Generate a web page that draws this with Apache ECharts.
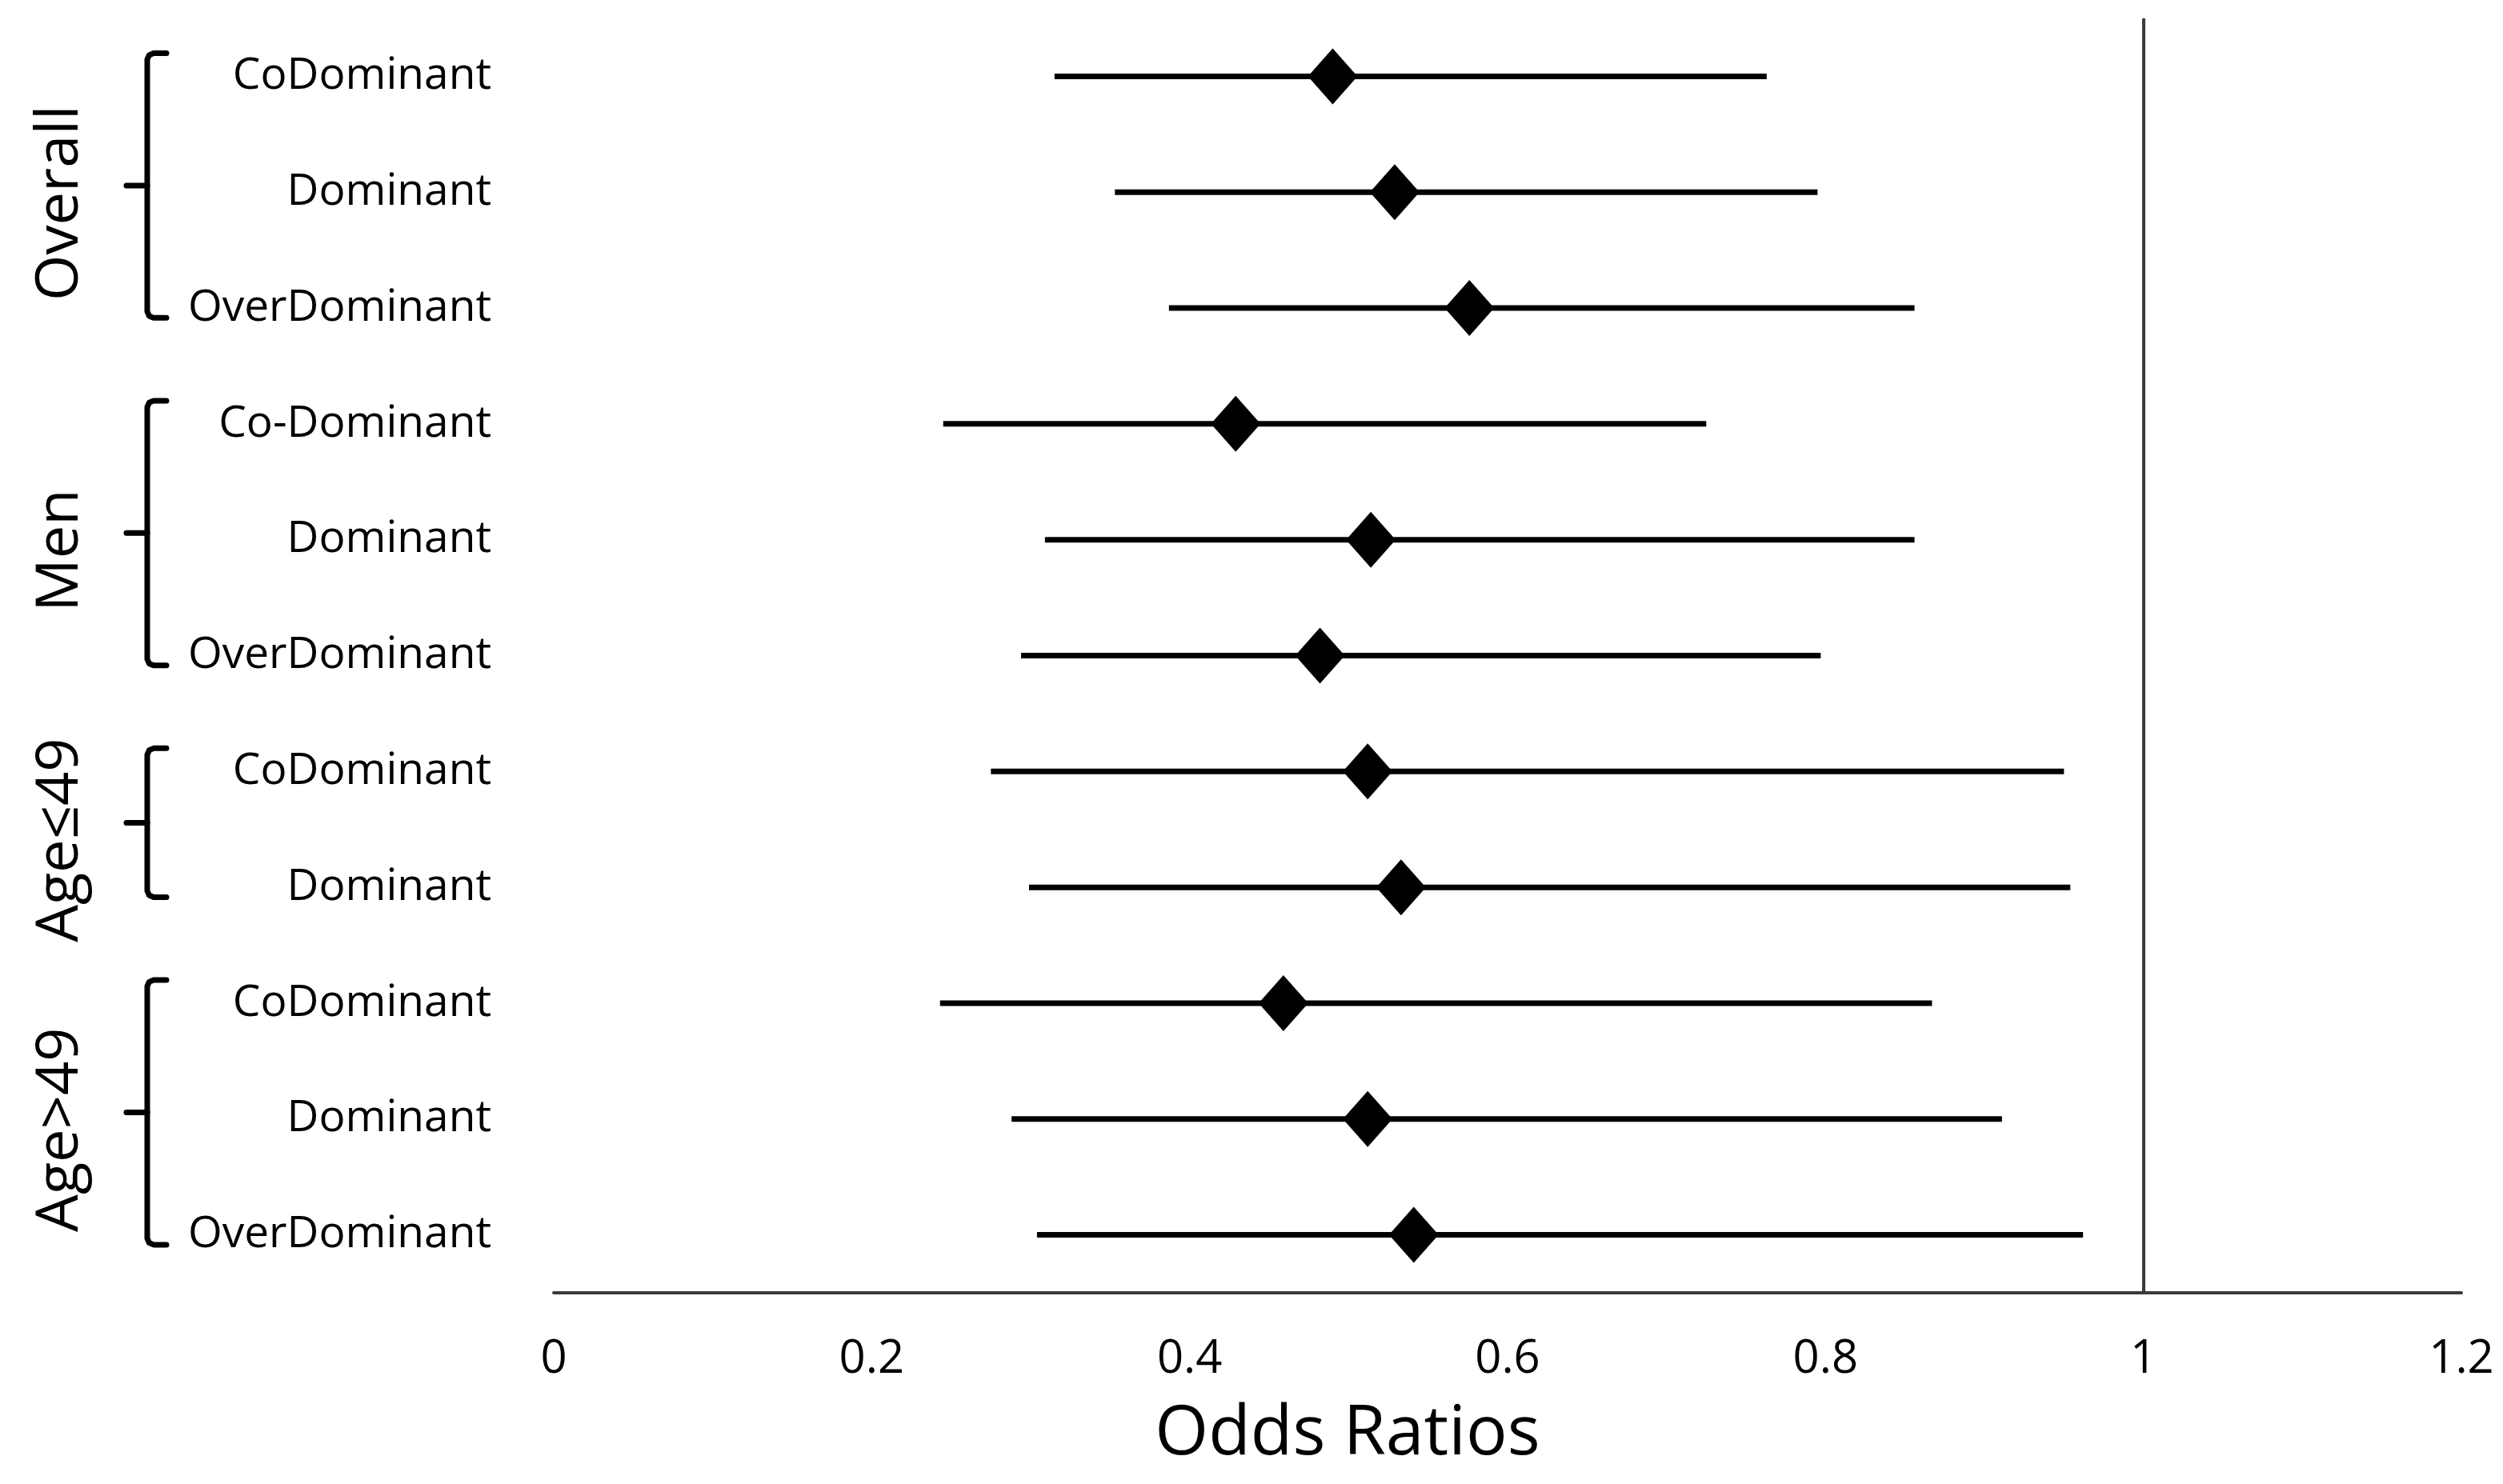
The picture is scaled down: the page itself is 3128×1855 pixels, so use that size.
<!DOCTYPE html>
<html>
<head>
<meta charset="utf-8">
<script src="https://cdn.jsdelivr.net/npm/echarts@6/dist/echarts.min.js"></script>
<style>
  html, body { margin: 0; padding: 0; background: #ffffff; }
  #chart { width: 3128px; height: 1855px; }
</style>
</head>
<body>
<div id="chart"></div>
<script>
// ---- data ----
const categories = ['CoDominant', 'Dominant', 'OverDominant', 'Co-Dominant', 'Dominant', 'OverDominant',
                    'CoDominant', 'Dominant', 'CoDominant', 'Dominant', 'OverDominant'];
const oddsRatio = [0.490, 0.529, 0.576, 0.429, 0.514, 0.482, 0.512, 0.533, 0.459, 0.512, 0.541];
const ciLow     = [0.315, 0.353, 0.387, 0.245, 0.309, 0.294, 0.275, 0.299, 0.243, 0.288, 0.304];
const ciHigh    = [0.763, 0.795, 0.856, 0.725, 0.856, 0.797, 0.950, 0.954, 0.867, 0.911, 0.962];
const groupNames = ['Overall', 'Men', 'Age\u226449', 'Age>49'];
const groupSizes = [3, 3, 2, 3];
const referenceValue = 1;
const xMin = 0, xMax = 1.2, xStep = 0.2;

const FONT = '"Open Sans", "Liberation Sans", sans-serif';
const chart = echarts.init(document.getElementById('chart'), null, { renderer: 'canvas' });

chart.setOption({
  backgroundColor: '#ffffff',
  animation: false,
  grid: { left: 692, right: 52, top: 23, bottom: 239, containLabel: false },
  xAxis: {
    type: 'value',
    min: xMin, max: xMax, interval: xStep,
    name: 'Odds Ratios',
    nameLocation: 'middle',
    nameGap: 134,
    nameTextStyle: { fontFamily: FONT, fontSize: 86, color: '#000', padding: [0, 400, 0, 0] },
    axisLine: { show: true, lineStyle: { color: '#3a3a3a', width: 4 } },
    axisTick: { show: false },
    splitLine: { show: false },
    axisLabel: { fontFamily: FONT, fontSize: 58, color: '#000', margin: 54 }
  },
  yAxis: {
    type: 'category',
    data: categories,
    inverse: true,
    axisLine: { show: false },
    axisTick: { show: false },
    splitLine: { show: false },
    axisLabel: { fontFamily: FONT, fontSize: 55, color: '#000', margin: 78 }
  },
  series: [
    {
      type: 'custom',
      name: 'CI',
      silent: true,
      encode: { x: [1, 2], y: 0 },
      data: categories.map((c, i) => [i, ciLow[i], ciHigh[i]]),
      renderItem: function (params, api) {
        const y = api.value(0);
        const p1 = api.coord([api.value(1), y]);
        const p2 = api.coord([api.value(2), y]);
        return {
          type: 'line',
          shape: { x1: p1[0], y1: p1[1], x2: p2[0], y2: p2[1] },
          style: { stroke: '#000', lineWidth: 7, lineCap: 'butt' }
        };
      },
      markLine: {
        silent: true,
        symbol: 'none',
        label: { show: false },
        lineStyle: { color: '#3a3a3a', width: 4, type: 'solid' },
        data: [{ xAxis: referenceValue }]
      },
      z: 2
    },
    {
      type: 'scatter',
      name: 'OR',
      symbol: 'diamond',
      symbolSize: [62, 70],
      itemStyle: { color: '#000', opacity: 1 },
      data: oddsRatio.map((v, i) => [v, i]),
      z: 3
    }
  ]
});

// ---- group braces and labels, positioned through the category axis ----
function drawGroups() {
  const band = chart.convertToPixel({ yAxisIndex: 0 }, 1) - chart.convertToPixel({ yAxisIndex: 0 }, 0);
  const vx = 184, hookX = 208, midX = 158, r = 8, textX = 76;
  const g = [];
  let start = 0;
  groupNames.forEach((name, k) => {
    const end = start + groupSizes[k] - 1;
    const yFirst = chart.convertToPixel({ yAxisIndex: 0 }, start);
    const yLast = chart.convertToPixel({ yAxisIndex: 0 }, end);
    const top = yFirst - 0.2 * band;
    const bottom = yLast + 0.085 * band;
    const mid = (top + bottom) / 2;
    g.push({
      type: 'polyline',
      silent: true,
      shape: {
        points: [
          [hookX, top], [vx + r, top], [vx + r * 0.3, top + r * 0.3], [vx, top + r],
          [vx, bottom - r], [vx + r * 0.3, bottom - r * 0.3], [vx + r, bottom], [hookX, bottom]
        ]
      },
      style: { fill: null, stroke: '#000', lineWidth: 7, lineCap: 'round', lineJoin: 'round' }
    });
    g.push({
      type: 'line',
      silent: true,
      shape: { x1: midX, y1: mid, x2: vx, y2: mid },
      style: { stroke: '#000', lineWidth: 7, lineCap: 'round' }
    });
    g.push({
      type: 'text',
      silent: true,
      x: textX,
      y: mid + 0.15 * band,
      rotation: Math.PI / 2,
      style: {
        text: name,
        fontFamily: FONT,
        fontSize: 74,
        fill: '#000',
        align: 'center',
        verticalAlign: 'middle'
      }
    });
    start = end + 1;
  });
  chart.setOption({ graphic: g });
}
drawGroups();
</script>
</body>
</html>
